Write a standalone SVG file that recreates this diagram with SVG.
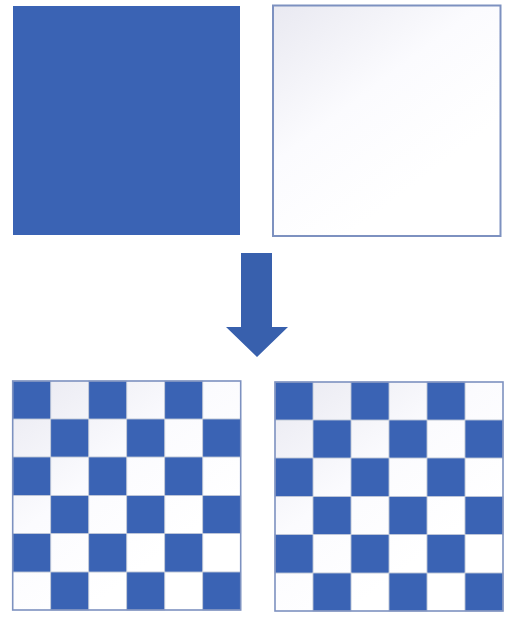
<svg xmlns="http://www.w3.org/2000/svg" width="511" height="627" viewBox="0 0 511 627">
<style>
.blue{fill:#3a63b4}
.cell{fill:#3a63b4;stroke:#c9cfdc;stroke-width:0.8}
.frame{fill:none;stroke:#7d91c0;stroke-width:1.6}
.grid{stroke:#cfd4df;stroke-width:0.8}
</style>
<defs>
<linearGradient id="fade" x1="0" y1="0" x2="0.6" y2="0.8">
<stop offset="0" stop-color="#e9e9f1"/>
<stop offset="0.55" stop-color="#fbfbfe"/>
<stop offset="1" stop-color="#ffffff"/>
</linearGradient>
<g id="board">
<rect x="0" y="0" width="228" height="229" fill="url(#fade)"/>
<g class="grid">
<line x1="38" y1="0" x2="38" y2="229"/><line x1="76" y1="0" x2="76" y2="229"/><line x1="114" y1="0" x2="114" y2="229"/><line x1="152" y1="0" x2="152" y2="229"/><line x1="190" y1="0" x2="190" y2="229"/>
<line x1="0" y1="38" x2="228" y2="38"/><line x1="0" y1="76" x2="228" y2="76"/><line x1="0" y1="114.5" x2="228" y2="114.5"/><line x1="0" y1="152.5" x2="228" y2="152.5"/><line x1="0" y1="191" x2="228" y2="191"/>
</g>
<g class="cell">
<rect x="0" y="0" width="38" height="38"/><rect x="76" y="0" width="38" height="38"/><rect x="152" y="0" width="38" height="38"/>
<rect x="38" y="38" width="38" height="38"/><rect x="114" y="38" width="38" height="38"/><rect x="190" y="38" width="38" height="38"/>
<rect x="0" y="76" width="38" height="38.5"/><rect x="76" y="76" width="38" height="38.5"/><rect x="152" y="76" width="38" height="38.5"/>
<rect x="38" y="114.5" width="38" height="38"/><rect x="114" y="114.5" width="38" height="38"/><rect x="190" y="114.5" width="38" height="38"/>
<rect x="0" y="152.5" width="38" height="38.5"/><rect x="76" y="152.5" width="38" height="38.5"/><rect x="152" y="152.5" width="38" height="38.5"/>
<rect x="38" y="191" width="38" height="38"/><rect x="114" y="191" width="38" height="38"/><rect x="190" y="191" width="38" height="38"/>
</g>
<rect class="frame" x="0" y="0" width="228" height="229"/>
</g>
</defs>
<rect width="511" height="627" fill="#ffffff"/>
<g id="solid-blue">
<rect class="blue" x="13" y="6" width="227" height="229"/>
</g>
<g id="solid-white">
<rect x="273" y="5.5" width="227.5" height="230.5" fill="url(#fade)" stroke="#7d91c0" stroke-width="2"/>
</g>
<g id="connectors">
<polygon fill="#3860ad" points="241,253 272,253 272,327 288,327 257,357 226,327 241,327"/>
</g>
<g id="checker-left">
<use href="#board" x="12.7" y="381"/>
</g>
<g id="checker-right">
<use href="#board" x="275" y="382"/>
</g>
</svg>
